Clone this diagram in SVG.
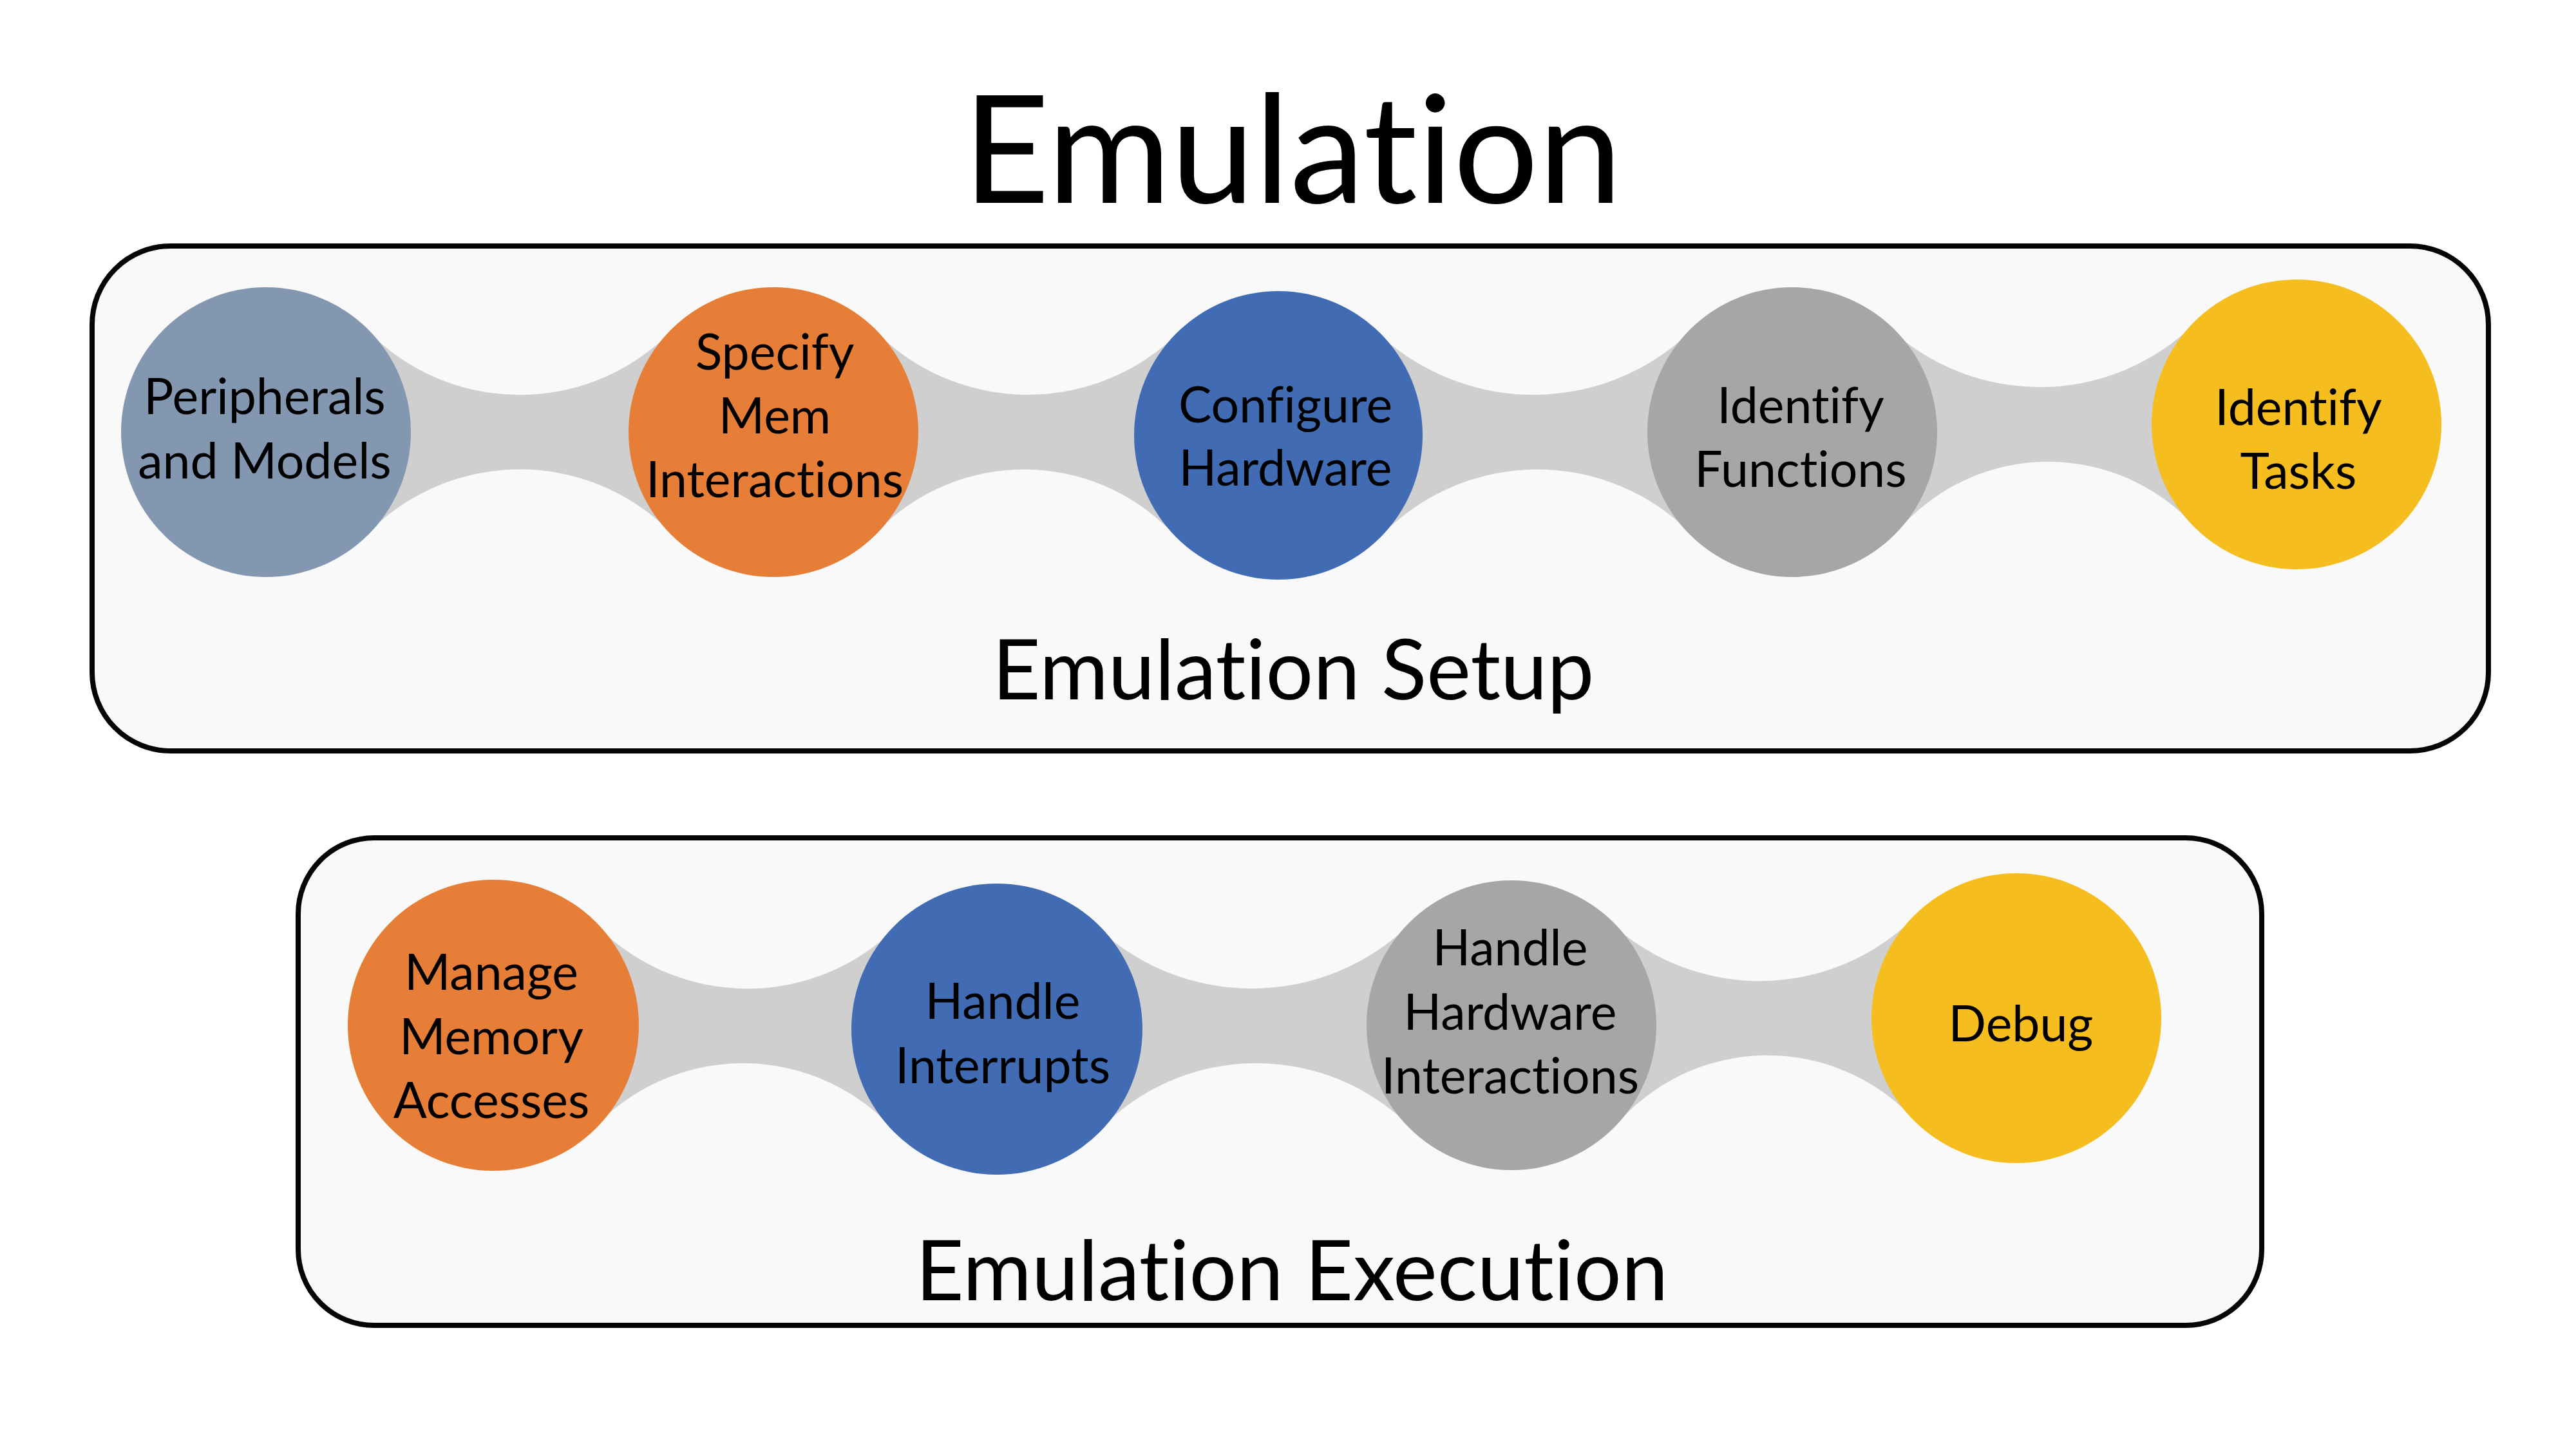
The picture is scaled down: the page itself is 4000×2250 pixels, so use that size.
<svg xmlns="http://www.w3.org/2000/svg" width="4000" height="2250" viewBox="0 0 4000 2250">
<style>
.panel{fill:#f9f9f9;stroke:#050505;stroke-width:8}
.band{fill:#cfcfcf}
.t{font-family:Lato,"Open Sans","Liberation Sans",sans-serif;fill:#000;text-anchor:middle;font-variant-ligatures:none;font-feature-settings:"liga" 0}
.title{font-size:233px}
.sec{font-size:130px}
.lbl{font-size:77px}
.c1{fill:#8497b0}.c2{fill:#e67e37}.c3{fill:#416cb3}.c4{fill:#a6a6a6}.c5{fill:#f6bd1e}
</style>
<rect width="4000" height="2250" fill="#ffffff"/>
<text class="t title" x="2007" y="315">Emulation</text>
<g id="panel-setup">
<rect class="panel" x="143" y="382" width="3721" height="784" rx="122" ry="122"/>
<text class="t sec" x="2008" y="1086">Emulation Setup</text>
</g>
<g id="panel-execution">
<rect class="panel" x="463" y="1301" width="3049" height="757" rx="118" ry="118"/>
<text class="t sec" x="2006" y="2019">Emulation Execution</text>
</g>
<g id="connectors">
<path class="band" d="M413,671 L588,530 A330,330 0 0 0 1026,530 L1201,671 L1026,812 A330,330 0 0 0 588,812 Z"/>
<path class="band" d="M1201,671 L1376,530 A333,333 0 0 0 1810,535 L1985,676 L1810,817 A318,318 0 0 0 1376,812 Z"/>
<path class="band" d="M1985,676 L2160,535 A352,352 0 0 0 2608,530 L2783,671 L2608,812 A336,336 0 0 0 2160,817 Z"/>
<path class="band" d="M2783,671 L2958,530 A343,343 0 0 0 3391,518 L3566,659 L3391,800 A308,308 0 0 0 2958,812 Z"/>
<path class="band" d="M766,1592 L941,1451 A328,328 0 0 0 1373,1457 L1548,1598 L1373,1739 A317,317 0 0 0 941,1733 Z"/>
<path class="band" d="M1548,1598 L1723,1457 A352,352 0 0 0 2172,1451 L2347,1592 L2172,1733 A339,339 0 0 0 1723,1739 Z"/>
<path class="band" d="M2347,1592 L2522,1451 A342,342 0 0 0 2956,1440 L3131,1581 L2956,1722 A310,310 0 0 0 2522,1733 Z"/>
</g>
<g id="node-peripherals">
<circle class="c1" cx="413" cy="671" r="225"/>
<text class="t lbl"><tspan x="411" y="643">Peripherals</tspan><tspan x="411" y="743">and Models</tspan></text>
</g>
<g id="node-specify">
<circle class="c2" cx="1201" cy="671" r="225"/>
<text class="t lbl"><tspan x="1203" y="574">Specify</tspan><tspan x="1203" y="673">Mem</tspan><tspan x="1203" y="772">Interactions</tspan></text>
</g>
<g id="node-configure">
<circle class="c3" cx="1985" cy="676" r="224"/>
<text class="t lbl"><tspan x="1996" y="656">Configure</tspan><tspan x="1996" y="754">Hardware</tspan></text>
</g>
<g id="node-functions">
<circle class="c4" cx="2783" cy="671" r="225"/>
<text class="t lbl"><tspan x="2796" y="657">Identify</tspan><tspan x="2796" y="756">Functions</tspan></text>
</g>
<g id="node-tasks">
<circle class="c5" cx="3566" cy="659" r="225"/>
<text class="t lbl"><tspan x="3569" y="660">Identify</tspan><tspan x="3569" y="759">Tasks</tspan></text>
</g>
<g id="node-memory">
<circle class="c2" cx="766" cy="1592" r="226"/>
<text class="t lbl"><tspan x="763" y="1537">Manage</tspan><tspan x="763" y="1637">Memory</tspan><tspan x="763" y="1736">Accesses</tspan></text>
</g>
<g id="node-interrupts">
<circle class="c3" cx="1548" cy="1598" r="226"/>
<text class="t lbl"><tspan x="1557" y="1582">Handle</tspan><tspan x="1557" y="1682">Interrupts</tspan></text>
</g>
<g id="node-hardware">
<circle class="c4" cx="2347" cy="1592" r="225"/>
<text class="t lbl"><tspan x="2345" y="1499">Handle</tspan><tspan x="2345" y="1599">Hardware</tspan><tspan x="2345" y="1698">Interactions</tspan></text>
</g>
<g id="node-debug">
<circle class="c5" cx="3131" cy="1581" r="225"/>
<text class="t lbl" x="3138" y="1617">Debug</text>
</g>
</svg>
